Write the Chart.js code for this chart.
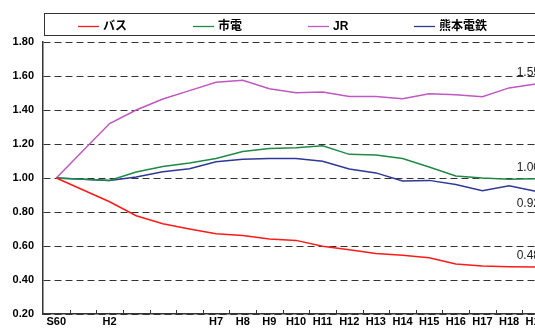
<!DOCTYPE html>
<html>
<head>
<meta charset="utf-8">
<script src="https://cdn.jsdelivr.net/npm/chart.js@4/dist/chart.umd.min.js"></script>
<style>
  html, body { margin: 0; padding: 0; background: #fff; overflow: hidden; width: 535px; height: 333px; }
  #wrap { position: relative; width: 560px; height: 333px; }
</style>
</head>
<body>
<div id="wrap"><canvas id="c"></canvas></div>
<script>
const categories = ['S60', '', 'H2', '', '', '', 'H7', 'H8', 'H9', 'H10', 'H11', 'H12', 'H13', 'H14', 'H15', 'H16', 'H17', 'H18', 'H19'];
const seriesNames = ['バス', '市電', 'JR', '熊本電鉄'];
const bus      = [1.00, null, 0.860, 0.778, 0.731, 0.700, 0.672, 0.662, 0.641, 0.633, 0.598, 0.578, 0.556, 0.545, 0.531, 0.494, 0.482, 0.478, 0.476];
const shiden   = [1.00, null, 0.986, 1.035, 1.068, 1.088, 1.115, 1.156, 1.174, 1.178, 1.190, 1.139, 1.135, 1.115, 1.065, 1.012, 1.000, 0.992, 0.996];
const jr       = [1.00, null, 1.320, 1.400, 1.465, 1.514, 1.563, 1.575, 1.525, 1.502, 1.506, 1.480, 1.480, 1.466, 1.496, 1.490, 1.478, 1.530, 1.553];
const kumaden  = [1.00, null, 0.986, 1.006, 1.037, 1.055, 1.096, 1.110, 1.114, 1.115, 1.098, 1.053, 1.030, 0.982, 0.986, 0.962, 0.925, 0.955, 0.922];
const yTicks = [0.20, 0.40, 0.60, 0.80, 1.00, 1.20, 1.40, 1.60, 1.80];
const colors = ['#ff1a1a', '#1f8a45', '#c157c1', '#2e3896'];
const endLabelSide = ['above', 'above', 'above', 'below'];

const FONT = "'Liberation Sans', Arial, 'Noto Sans CJK JP', sans-serif";

const decorPlugin = {
  id: 'decor',
  afterDraw(chart) {
    const ctx = chart.ctx;
    const ca = chart.chartArea;
    ctx.save();
    // inward tick marks on x axis between categories
    ctx.strokeStyle = '#333';
    ctx.lineWidth = 1;
    const n = categories.length;
    const w = (ca.right - ca.left) / n;
    for (let i = 1; i <= n; i++) {
      const x = Math.round(ca.left + i * w) + 0.5;
      ctx.beginPath();
      ctx.moveTo(x, ca.bottom);
      ctx.lineTo(x, ca.bottom - 4);
      ctx.stroke();
    }
    // end-value labels
    ctx.font = "12px " + FONT;
    ctx.fillStyle = '#222';
    ctx.textAlign = 'left';
    ctx.textBaseline = 'middle';
    chart.data.datasets.forEach((ds, di) => {
      const meta = chart.getDatasetMeta(di);
      const last = meta.data[meta.data.length - 1];
      const v = ds.data[ds.data.length - 1];
      const dy = endLabelSide[di] === 'above' ? -11 : 12;
      ctx.fillText(v.toFixed(2), last.x - 19, last.y + dy);
    });
    // legend box
    ctx.strokeStyle = '#333';
    ctx.lineWidth = 1;
    ctx.strokeRect(44.5, 13.5, 600, 22);
    const lx = [78, 193, 308, 414];
    ctx.font = "bold 12px " + FONT;
    ctx.fillStyle = '#000';
    chart.data.datasets.forEach((ds, di) => {
      ctx.strokeStyle = ds.borderColor;
      ctx.lineWidth = 1.3;
      ctx.beginPath();
      ctx.moveTo(lx[di], 26.5);
      ctx.lineTo(lx[di] + 21, 26.5);
      ctx.stroke();
      ctx.fillText(ds.label, lx[di] + 25, 26.5);
    });
    ctx.restore();
  }
};

new Chart(document.getElementById('c'), {
  type: 'line',
  data: {
    labels: categories,
    datasets: [
      { label: seriesNames[0], data: bus },
      { label: seriesNames[1], data: shiden },
      { label: seriesNames[2], data: jr },
      { label: seriesNames[3], data: kumaden }
    ].map((d, i) => Object.assign(d, {
      borderColor: colors[i], backgroundColor: colors[i], borderWidth: 1.5,
      pointRadius: 0, tension: 0, spanGaps: true, fill: false
    }))
  },
  options: {
    responsive: true,
    maintainAspectRatio: false,
    animation: false,
    devicePixelRatio: 1,
    layout: { padding: { top: 42, right: 11, left: 0, bottom: 0 } },
    plugins: { legend: { display: false }, tooltip: { enabled: false } },
    scales: {
      x: {
        offset: true,
        grid: { display: false, drawTicks: false },
        border: { display: true, color: '#333', width: 1.5 },
        ticks: {
          autoSkip: false, maxRotation: 0, padding: 1,
          color: '#000', font: { family: FONT, size: 11, weight: 'bold' }
        },
        afterFit(s) { s.height = 19; }
      },
      y: {
        min: 0.2, max: 1.8,
        afterBuildTicks(s) { s.ticks = yTicks.map(v => ({ value: v })); },
        grid: { color: '#333', lineWidth: 1, drawTicks: false },
        border: { display: true, color: '#333', width: 1.5, dash: [7, 4] },
        ticks: {
          padding: 9, color: '#000',
          font: { family: FONT, size: 11, weight: 'bold' },
          callback: v => Number(v).toFixed(2)
        },
        afterFit(s) { s.width = 43; }
      }
    }
  },
  plugins: [decorPlugin]
});
</script>
</body>
</html>
